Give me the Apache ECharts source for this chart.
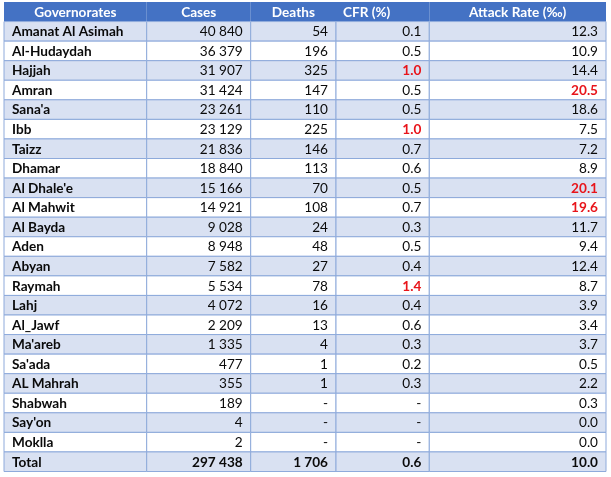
<!DOCTYPE html>
<html>
<head>
<meta charset="utf-8">
<script src="https://cdn.jsdelivr.net/npm/echarts@6/dist/echarts.min.js"></script>
<style>
  html, body { margin: 0; padding: 0; background: #fff; }
  #main { width: 611px; height: 477px; }
</style>
</head>
<body>
<div id="main"></div>
<script>
// table data
const columns = ['Governorates', 'Cases', 'Deaths', 'CFR (%)', 'Attack Rate (‰)'];
const governorates = ['Amanat Al Asimah', 'Al-Hudaydah', 'Hajjah', 'Amran', "Sana'a", 'Ibb', 'Taizz', 'Dhamar',
  "Al Dhale'e", 'Al Mahwit', 'Al Bayda', 'Aden', 'Abyan', 'Raymah', 'Lahj', 'Al_Jawf', "Ma'areb", "Sa'ada",
  'AL Mahrah', 'Shabwah', "Say'on", 'Moklla'];
const cases = [40840, 36379, 31907, 31424, 23261, 23129, 21836, 18840, 15166, 14921, 9028, 8948, 7582, 5534,
  4072, 2209, 1335, 477, 355, 189, 4, 2];
const deaths = [54, 196, 325, 147, 110, 225, 146, 113, 70, 108, 24, 48, 27, 78, 16, 13, 4, 1, 1, null, null, null];
const cfr = [0.1, 0.5, 1.0, 0.5, 0.5, 1.0, 0.7, 0.6, 0.5, 0.7, 0.3, 0.5, 0.4, 1.4, 0.4, 0.6, 0.3, 0.2, 0.3,
  null, null, null];
const attackRate = [12.3, 10.9, 14.4, 20.5, 18.6, 7.5, 7.2, 8.9, 20.1, 19.6, 11.7, 9.4, 12.4, 8.7, 3.9, 3.4,
  3.7, 0.5, 2.2, 0.3, 0.0, 0.0];
const totalRow = ['Total', 297438, 1706, 0.6, 10.0];

// highlight thresholds (red values)
const cfrAlert = 1.0;
const attackAlert = 19.5;

// layout
const colEdges = [0, 142.7, 246.7, 332, 425.3, 602];
const headerAlign = ['center', 'center', 'center', 'left', 'center'];
const FONT = 'Lato, "Noto Sans", sans-serif';
const FONT_SIZE = 13.6;
const blue = '#4472c4', light = '#d9e1f2', line = '#8eaadb', red = '#e8141a';

function fmtInt(v) {
  if (v == null) return '-';
  return String(v).replace(/\B(?=(\d{3})+(?!\d))/g, ' ');
}
function fmt1(v) {
  return v == null ? '-' : v.toFixed(1);
}

const rowNames = ['header'].concat(governorates, ['Total']);
const cells = [];
columns.forEach((c, ci) => {
  cells.push({ value: [ci, 0], text: c, header: true });
});
governorates.forEach((g, i) => {
  const r = i + 1;
  cells.push({ value: [0, r], text: g, bold: true });
  cells.push({ value: [1, r], text: fmtInt(cases[i]) });
  cells.push({ value: [2, r], text: fmtInt(deaths[i]) });
  cells.push({ value: [3, r], text: fmt1(cfr[i]), alert: cfr[i] != null && cfr[i] >= cfrAlert });
  cells.push({ value: [4, r], text: fmt1(attackRate[i]), alert: attackRate[i] >= attackAlert });
});
const tr = rowNames.length - 1;
cells.push({ value: [0, tr], text: totalRow[0], bold: true });
cells.push({ value: [1, tr], text: fmtInt(totalRow[1]), bold: true });
cells.push({ value: [2, tr], text: fmtInt(totalRow[2]), bold: true });
cells.push({ value: [3, tr], text: fmt1(totalRow[3]), bold: true });
cells.push({ value: [4, tr], text: fmt1(totalRow[4]), bold: true });

function renderCell(params, api) {
  const cell = cells[params.dataIndex];
  const ci = api.value(0), ri = api.value(1);
  const h = api.size([0, 1])[1];
  const p0 = api.coord([colEdges[ci], ri]);
  const p1 = api.coord([colEdges[ci + 1], ri]);
  const x = p0[0], w = p1[0] - p0[0], y = p0[1] - h / 2;
  // odd rows (and total) shaded
  const fill = (ri % 2 === 1 || ri === tr) ? light : '#ffffff';
  let align = ci === 0 ? 'left' : 'right';
  let tx = ci === 0 ? x + 8 : x + w - 8;
  if (cell.header) {
    align = headerAlign[ci];
    tx = align === 'left' ? x + 7 : x + w / 2;
  }
  const rect = {
    type: 'rect',
    shape: { x: x, y: y, width: w, height: h },
    style: cell.header ? { fill: blue } : { fill: fill, stroke: line, lineWidth: 1 }
  };
  const txt = {
    type: 'text',
    style: {
      text: cell.text,
      x: tx,
      y: y + h / 2 + 0.5,
      align: align,
      verticalAlign: 'middle',
      fill: cell.header ? '#ffffff' : (cell.alert ? red : '#0a0a0a'),
      font: ((cell.header || cell.bold || cell.alert) ? 'bold ' : '') + FONT_SIZE + 'px ' + FONT
    }
  };
  return { type: 'group', children: [rect, txt] };
}

const chart = echarts.init(document.getElementById('main'));
chart.setOption({
  animation: false,
  grid: { left: 4, top: 2, width: 602, height: 469.5 },
  xAxis: { type: 'value', min: 0, max: 602, show: false },
  yAxis: { type: 'category', data: rowNames, inverse: true, show: false },
  series: [{
    type: 'custom',
    renderItem: renderCell,
    data: cells,
    silent: true
  }]
});
</script>
</body>
</html>
